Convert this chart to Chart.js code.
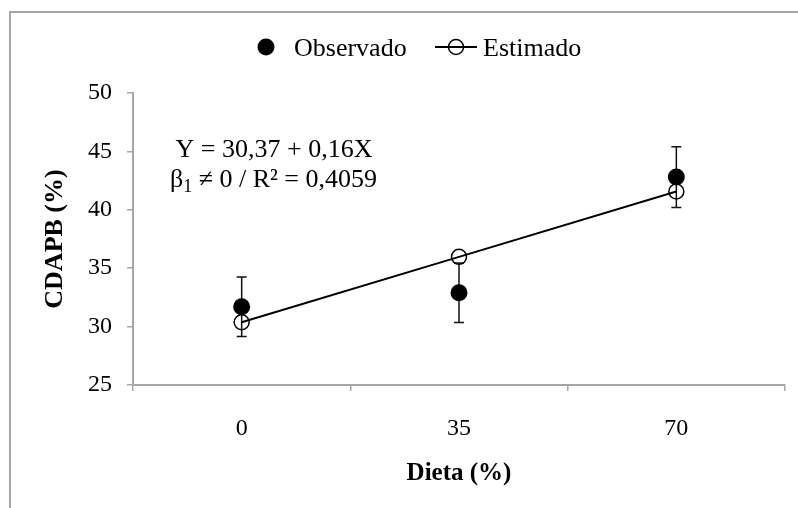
<!DOCTYPE html>
<html>
<head>
<meta charset="utf-8">
<script src="https://cdn.jsdelivr.net/npm/chart.js@4.4.1/dist/chart.umd.min.js"></script>
<style>
  html, body { margin: 0; padding: 0; background: #fff; }
  #wrap { width: 798px; height: 508px; }
</style>
</head>
<body>
<div id="wrap"><canvas id="chart-1" width="798" height="508"></canvas></div>
<script>
const labels = ['0', '35', '70'];
const observed = [31.7, 32.9, 42.8];
const observedErr = [2.55, 2.55, 2.6];
const estimated = [30.37, 35.97, 41.57];
const yTicks = [25, 30, 35, 40, 45, 50];
const equationLine1 = 'Y = 30,37 + 0,16X';
const equationLine2 = ' \u2260 0 / R\u00B2 = 0,4059';

const SERIF = '"Liberation Serif", "Times New Roman", serif';
const AXIS_GREY = '#a6a6a6';

// frame around the figure, legend and regression text
const decorPlugin = {
  id: 'decor',
  beforeDraw(chart) {
    const ctx = chart.ctx;
    ctx.save();
    ctx.strokeStyle = AXIS_GREY;
    ctx.lineWidth = 2;
    ctx.beginPath();
    ctx.moveTo(10, 508);
    ctx.lineTo(10, 12);
    ctx.lineTo(798, 12);
    ctx.stroke();
    ctx.restore();
  },
  afterDraw(chart) {
    const ctx = chart.ctx;
    const area = chart.chartArea;
    ctx.save();

    // legend
    ctx.fillStyle = '#000';
    ctx.strokeStyle = '#000';
    ctx.beginPath();
    ctx.arc(266, 47, 8.5, 0, Math.PI * 2);
    ctx.fill();
    ctx.font = '26px ' + SERIF;
    ctx.textBaseline = 'alphabetic';
    ctx.textAlign = 'left';
    ctx.fillText('Observado', 294, 56);

    ctx.lineWidth = 2;
    ctx.beginPath();
    ctx.moveTo(435, 47);
    ctx.lineTo(477, 47);
    ctx.stroke();
    ctx.lineWidth = 1.5;
    ctx.beginPath();
    ctx.arc(456, 47, 7.5, 0, Math.PI * 2);
    ctx.stroke();
    ctx.fillText('Estimado', 483, 56);

    // equation
    ctx.font = '26px ' + SERIF;
    ctx.textAlign = 'center';
    ctx.fillText(equationLine1, area.left + 141, 157);
    ctx.textAlign = 'left';
    let x = area.left + 37;
    ctx.fillText('\u03B2', x, 187);
    x += ctx.measureText('\u03B2').width;
    ctx.font = '18px ' + SERIF;
    ctx.fillText('1', x, 192);
    x += ctx.measureText('1').width;
    ctx.font = '26px ' + SERIF;
    ctx.fillText(equationLine2, x, 187);

    ctx.restore();
  },
};

const errorBarPlugin = {
  id: 'errorBars',
  beforeDatasetsDraw(chart) {
    const ctx = chart.ctx;
    const y = chart.scales.y;
    const meta = chart.getDatasetMeta(0);
    ctx.save();
    ctx.strokeStyle = '#111';
    ctx.lineWidth = 1.5;
    meta.data.forEach((pt, i) => {
      const top = y.getPixelForValue(observed[i] + observedErr[i]);
      const bot = y.getPixelForValue(observed[i] - observedErr[i]);
      ctx.beginPath();
      ctx.moveTo(pt.x, top);
      ctx.lineTo(pt.x, bot);
      ctx.moveTo(pt.x - 5, top);
      ctx.lineTo(pt.x + 5, top);
      ctx.moveTo(pt.x - 5, bot);
      ctx.lineTo(pt.x + 5, bot);
      ctx.stroke();
    });
    ctx.restore();
  },
};

const initChart1 = () => {
  const data = {
    labels: labels,
    datasets: [
      {
        label: 'Observado',
        data: observed,
        showLine: false,
        pointRadius: 8.5,
        pointBackgroundColor: '#000',
        pointBorderColor: '#000',
        pointBorderWidth: 0,
      },
      {
        label: 'Estimado',
        data: estimated,
        borderColor: '#000',
        borderWidth: 2,
        tension: 0,
        pointRadius: 7.5,
        pointBackgroundColor: 'rgba(0,0,0,0)',
        pointBorderColor: '#000',
        pointBorderWidth: 1.5,
      },
    ],
  };

  const config = {
    type: 'line',
    data: data,
    options: {
      responsive: false,
      animation: false,
      layout: {
        padding: { left: 0, right: 13, top: 93, bottom: 0 },
      },
      plugins: {
        legend: { display: false },
        tooltip: { enabled: false },
      },
      scales: {
        x: {
          offset: true,
          afterFit(scale) {
            scale.height = 123;
          },
          grid: {
            offset: true,
            drawOnChartArea: false,
            color: AXIS_GREY,
            tickLength: 6,
            lineWidth: 1.5,
          },
          border: { color: AXIS_GREY, width: 2 },
          ticks: {
            color: '#000',
            padding: 23,
            font: { family: SERIF, size: 24 },
          },
          title: {
            display: true,
            text: 'Dieta (%)',
            color: '#000',
            font: { family: SERIF, size: 25, weight: 'bold' },
            padding: { top: 0, bottom: 19 },
          },
        },
        y: {
          min: yTicks[0],
          max: yTicks[yTicks.length - 1],
          afterFit(scale) {
            scale.width = 133;
          },
          afterBuildTicks(scale) {
            scale.ticks = yTicks.map((v) => ({ value: v }));
          },
          grid: {
            drawOnChartArea: false,
            color: AXIS_GREY,
            tickLength: 6,
            lineWidth: 1.5,
          },
          border: { color: AXIS_GREY, width: 2 },
          ticks: {
            color: '#000',
            padding: 15,
            font: { family: SERIF, size: 24 },
          },
          title: {
            display: true,
            text: 'CDAPB (%)',
            color: '#000',
            font: { family: SERIF, size: 26, weight: 'bold' },
            padding: { top: 40, bottom: 0 },
          },
        },
      },
    },
    plugins: [decorPlugin, errorBarPlugin],
  };

  return new Chart(document.getElementById('chart-1'), config);
};

const chart1 = initChart1();
</script>
</body>
</html>
